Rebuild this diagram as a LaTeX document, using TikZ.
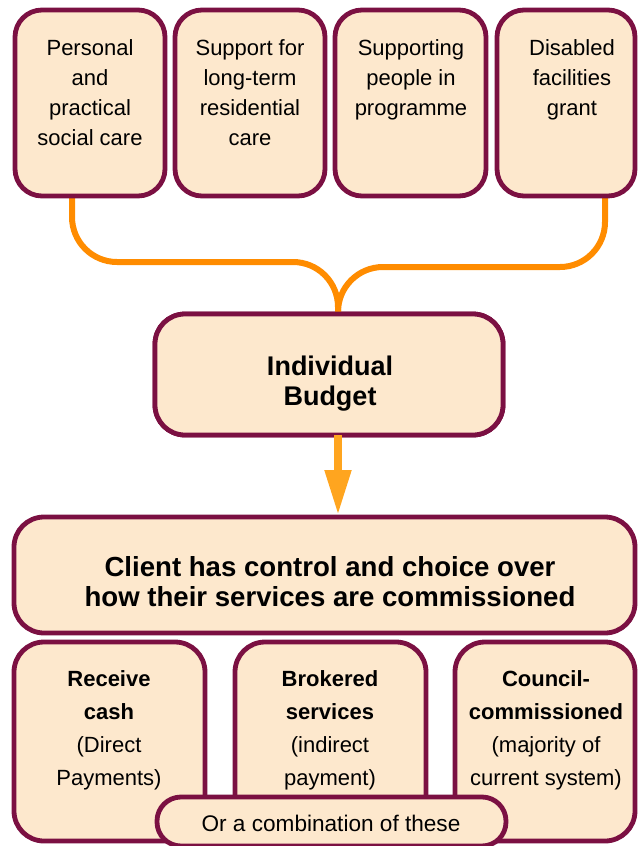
\documentclass[tikz,border=0pt]{standalone}
\usepackage{fontspec}
\setmainfont{Liberation Sans}
\usetikzlibrary{arrows.meta}
\definecolor{boxfill}{HTML}{FDE8CD}
\definecolor{boxline}{HTML}{7B1042}
\definecolor{curvec}{HTML}{FF8C00}
\definecolor{arrowc}{HTML}{FFA51F}
\begin{document}
\begin{tikzpicture}[x=1pt,y=-1pt,
  box/.style={draw=boxline, fill=boxfill, line width=4.8pt, inner sep=0pt, outer sep=0pt, rounded corners=#1},
  box/.default=27pt,
  toptext/.style={align=center, anchor=base, font=\fontsize{22}{30}\selectfont},
  boldtext/.style={align=center, anchor=base, font=\fontsize{27}{30}\selectfont\bfseries},
  bigtext/.style={align=center, anchor=base, font=\fontsize{27.6}{30}\selectfont\bfseries},
  bottext/.style={align=center, anchor=base, font=\fontsize{22}{33}\selectfont},
  pilltext/.style={anchor=base, font=\fontsize{22.6}{30}\selectfont},
  conn/.style={draw=curvec, line width=6pt, rounded corners=45pt},
  arr/.style={draw=arrowc, fill=arrowc, line width=8pt, -{Triangle[width=25pt,length=45pt]}}]
\useasboundingbox (0,0) rectangle (639,846);
% junction coordinates
\coordinate (jl) at (338,262);
\coordinate (jr) at (338,267);
% budget box (connector target)
\node[box=30pt, minimum width=348pt, minimum height=121pt] (budget) at (329,374.5) {};
% connectors drawn first (behind boxes)
\coordinate (s1) at (72,196);
\coordinate (s4) at (605,196);
\draw[conn] (s1) |- (jl) -- (budget.north -| jl);
\draw[conn] (s4) |- (jr) -- (budget.north -| jr);
% top boxes
\node[box, minimum width=150pt, minimum height=186pt] (b1) at (90,103) {};
\node[box, minimum width=150pt, minimum height=186pt] (b2) at (250,103) {};
\node[box, minimum width=151pt, minimum height=186pt] (b3) at (410.5,103) {};
\node[box, minimum width=138pt, minimum height=186pt] (b4) at (566,103) {};
% budget redrawn over connector ends
\node[box=30pt, minimum width=348pt, minimum height=121pt] (budgett) at (329,374.5) {};
% texts top (anchor = baseline of last line)
\node[toptext] (t1) at (90,145) {Personal\\and\\practical\\social care};
\node[toptext] (t2) at (250,145) {Support for\\long-term\\residential\\care};
\node[toptext] (t3) at (411,115) {Supporting\\people in\\programme};
\node[toptext] (t4) at (572,115) {Disabled\\facilities\\grant};
\node[boldtext] (tb) at (330,405) {Individual\\Budget};
% client box
\node[box=30pt, minimum width=621pt, minimum height=116pt] (client) at (324.5,575) {};
\node[bigtext] (tc) at (330,606) {Client has control and choice over\\how their services are commissioned};
% arrow
\draw[arr] (budgett.south -| jl) -- ([yshift=2pt]client.north -| jl);
% bottom boxes
\node[box=30pt, minimum width=191pt, minimum height=199pt] (ba) at (109.5,741.5) {};
\node[box=30pt, minimum width=191pt, minimum height=199pt] (bb) at (330.5,741.5) {};
\node[box=30pt, minimum width=180pt, minimum height=199pt] (bc) at (545,741.5) {};
\node[bottext] (ta) at (109,785) {\textbf{Receive}\\\textbf{cash}\\(Direct\\Payments)};
\node[bottext] (tbb) at (330,785) {\textbf{Brokered}\\\textbf{services}\\(indirect\\payment)};
\node[bottext] (tcc) at (546,785) {\textbf{Council-}\\\textbf{commissioned}\\(majority of\\current system)};
% pill
\node[box=24pt, minimum width=349pt, minimum height=49pt] (pill) at (331.5,821.5) {};
\node[pilltext] (tp) at (331,831) {Or a combination of these};
\end{tikzpicture}
\end{document}
